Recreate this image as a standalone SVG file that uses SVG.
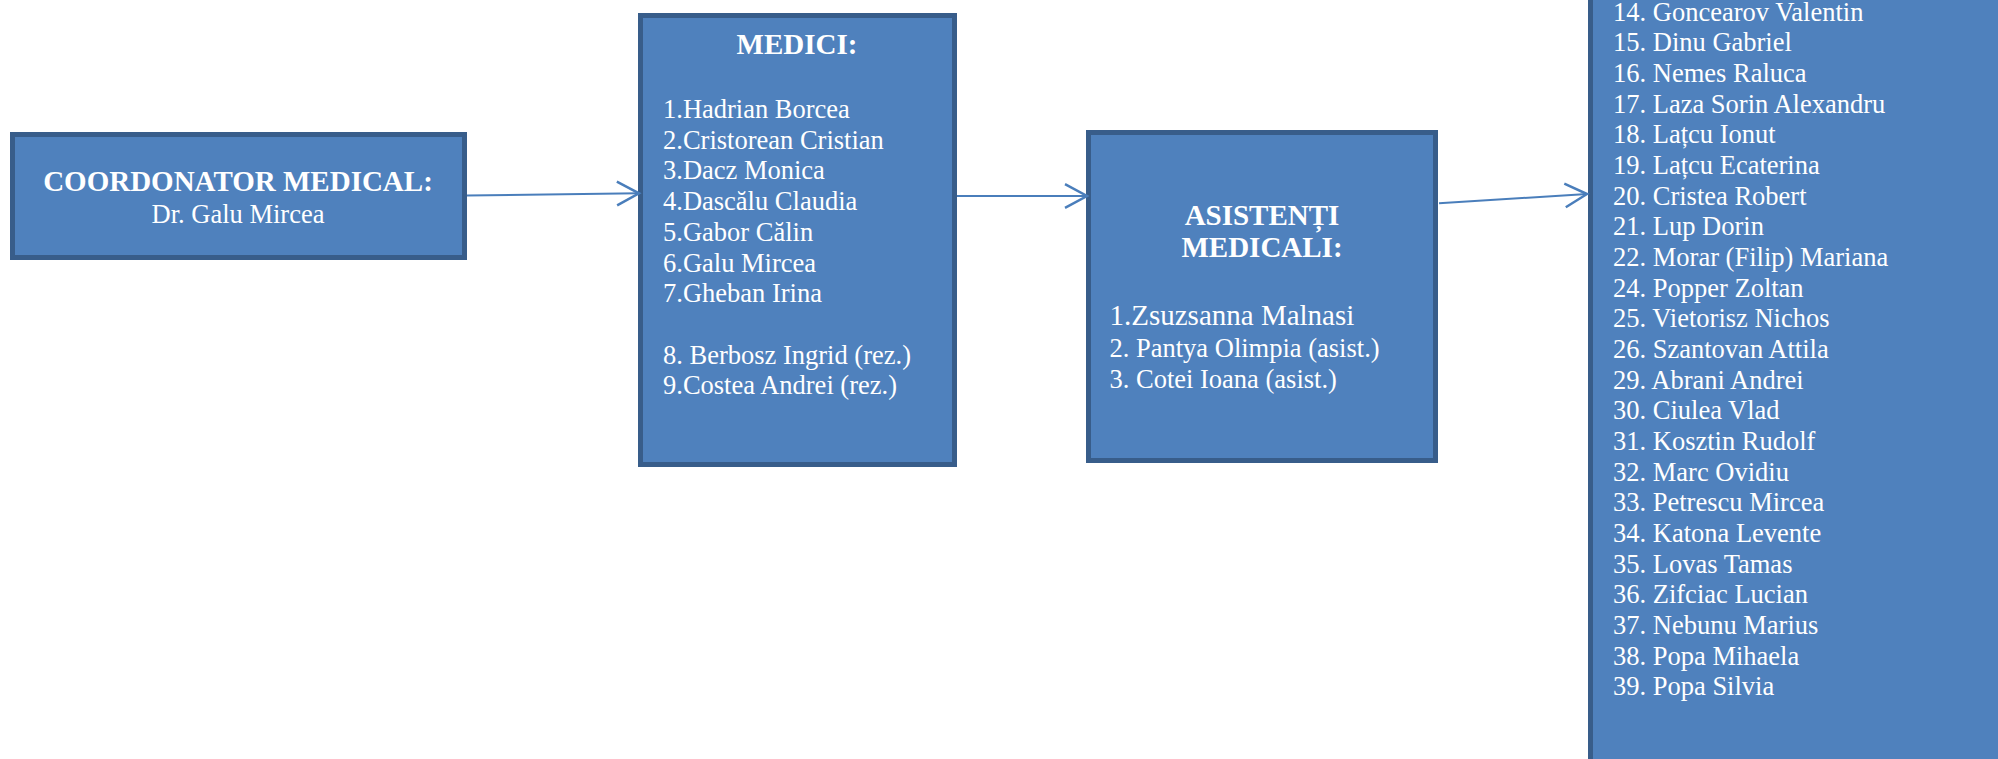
<svg xmlns="http://www.w3.org/2000/svg" width="1998" height="759" viewBox="0 0 1998 759">
<style>
.box{fill:#4F81BD;stroke:#385D8A;stroke-width:5}
.t{font-family:"Liberation Serif","Times New Roman",serif;fill:#FFFFFF;font-size:26.5px}
.b{font-weight:bold;font-size:29px}
.c{text-anchor:middle}
.conn{stroke:#4A7EBB;stroke-width:2;fill:none}
</style>
<defs>
<marker id="arr" markerUnits="userSpaceOnUse" markerWidth="30" markerHeight="30" viewBox="-20 -12 24 24" refX="0" refY="0" orient="auto" overflow="visible">
<path d="M -17.6 -9.5 L 0 0 L -17.6 9.5" fill="none" stroke="#4A7EBB" stroke-width="2"/>
</marker>
</defs>
<rect width="1998" height="759" fill="#FFFFFF"/>
<g id="coordonator">
<rect class="box" x="12.5" y="134.5" width="452" height="123"/>
<text class="t b c" x="238" y="191">COORDONATOR MEDICAL:</text>
<text class="t c" x="238" y="223">Dr. Galu Mircea</text>
</g>
<g id="medici">
<rect class="box" x="640.5" y="15.5" width="314" height="449"/>
<text class="t b c" x="797" y="54">MEDICI:</text>
<text class="t" x="663" y="118">1.Hadrian Borcea</text>
<text class="t" x="663" y="149">2.Cristorean Cristian</text>
<text class="t" x="663" y="179">3.Dacz Monica</text>
<text class="t" x="663" y="210">4.Dascălu Claudia</text>
<text class="t" x="663" y="241">5.Gabor Călin</text>
<text class="t" x="663" y="272">6.Galu Mircea</text>
<text class="t" x="663" y="302">7.Gheban Irina</text>
<text class="t" x="663" y="364">8. Berbosz Ingrid (rez.)</text>
<text class="t" x="663" y="394">9.Costea Andrei (rez.)</text>
</g>
<g id="asistenti">
<rect class="box" x="1088.5" y="132.5" width="347" height="328"/>
<text class="t b c" x="1262" y="225">ASISTENȚI</text>
<text class="t b c" x="1262" y="257">MEDICALI:</text>
<text class="t" x="1109.5" y="325" style="font-size:29px">1.Zsuzsanna Malnasi</text>
<text class="t" x="1109.5" y="357">2. Pantya Olimpia (asist.)</text>
<text class="t" x="1109.5" y="388">3. Cotei Ioana (asist.)</text>
</g>
<g id="lista">
<rect class="box" x="1590.5" y="-10" width="420" height="790"/>
<text class="t" x="1613" y="20.7">14. Goncearov Valentin</text>
<text class="t" x="1613" y="51.4">15. Dinu Gabriel</text>
<text class="t" x="1613" y="82.0">16. Nemes Raluca</text>
<text class="t" x="1613" y="112.7">17. Laza Sorin Alexandru</text>
<text class="t" x="1613" y="143.4">18. Lațcu Ionut</text>
<text class="t" x="1613" y="174.1">19. Lațcu Ecaterina</text>
<text class="t" x="1613" y="204.7">20. Cristea Robert</text>
<text class="t" x="1613" y="235.4">21. Lup Dorin</text>
<text class="t" x="1613" y="266.1">22. Morar (Filip) Mariana</text>
<text class="t" x="1613" y="296.7">24. Popper Zoltan</text>
<text class="t" x="1613" y="327.4">25. Vietorisz Nichos</text>
<text class="t" x="1613" y="358.1">26. Szantovan Attila</text>
<text class="t" x="1613" y="388.7">29. Abrani Andrei</text>
<text class="t" x="1613" y="419.4">30. Ciulea Vlad</text>
<text class="t" x="1613" y="450.1">31. Kosztin Rudolf</text>
<text class="t" x="1613" y="480.8">32. Marc Ovidiu</text>
<text class="t" x="1613" y="511.4">33. Petrescu Mircea</text>
<text class="t" x="1613" y="542.1">34. Katona Levente</text>
<text class="t" x="1613" y="572.8">35. Lovas Tamas</text>
<text class="t" x="1613" y="603.4">36. Zifciac Lucian</text>
<text class="t" x="1613" y="634.1">37. Nebunu Marius</text>
<text class="t" x="1613" y="664.8">38. Popa Mihaela</text>
<text class="t" x="1613" y="695.4">39. Popa Silvia</text>
</g>
<g id="connectors">
<line class="conn" x1="467" y1="195.5" x2="639" y2="193.3" marker-end="url(#arr)"/>
<line class="conn" x1="957" y1="196" x2="1087" y2="196" marker-end="url(#arr)"/>
<line class="conn" x1="1439" y1="203.3" x2="1587" y2="194" marker-end="url(#arr)"/>
</g>
</svg>
